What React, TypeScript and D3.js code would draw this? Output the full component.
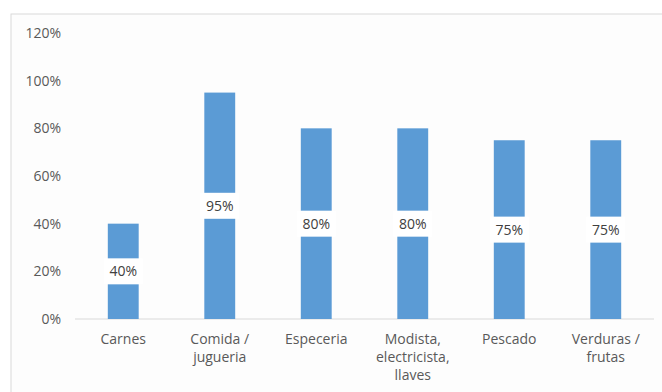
import React from "react";
import * as d3 from "d3";

const categories: string[][] = [
  ["Carnes"],
  ["Comida /", "jugueria"],
  ["Especeria"],
  ["Modista,", "electricista,", "llaves"],
  ["Pescado"],
  ["Verduras /", "frutas"],
];
const values: number[] = [0.4, 0.95, 0.8, 0.8, 0.75, 0.75];
const ticks: number[] = [0, 0.2, 0.4, 0.6, 0.8, 1.0, 1.2];

const W = 662;
const H = 392;
const FONT = "'Open Sans', Lato, 'Liberation Sans', sans-serif";
const FS = 14;

export default function App() {
  const x = d3
    .scaleBand<number>()
    .domain(values.map((_, i) => i))
    .range([75, 654])
    .paddingInner(0.68)
    .paddingOuter(0.34);
  const y = d3.scaleLinear().domain([0, 1.2]).range([319, 33]);
  const fmt = d3.format(".0%");

  return (
    <svg
      width={W}
      height={H}
      style={{ position: "absolute", left: 0, top: 0, display: "block" }}
      fontFamily={FONT}
    >
      <rect x={0} y={0} width={W} height={H} fill="#ffffff" />
      <rect x={11} y={14} width={W} height={H} fill="#fdfdfd" stroke="#d9d9d9" strokeWidth={1} />
      {ticks.map((t) => (
        <text
          key={t}
          x={61}
          y={y(t)}
          dy="0.35em"
          textAnchor="end"
          fontSize={FS}
          fill="#595959"
        >
          {fmt(t)}
        </text>
      ))}
      <line x1={75} x2={654} y1={y(0)} y2={y(0)} stroke="#d9d9d9" strokeWidth={1} />
      {values.map((v, i) => {
        const bx = x(i)!;
        const bw = x.bandwidth();
        const top = y(v);
        const mid = (y(0) + top) / 2;
        return (
          <g key={i}>
            <rect x={bx} y={top} width={bw} height={y(0) - top} fill="#5b9bd5" />
            <rect x={bx - 4} y={mid - 13} width={bw + 8} height={26} fill="#ffffff" />
            <text
              x={bx + bw / 2}
              y={mid}
              dy="0.35em"
              textAnchor="middle"
              fontSize={FS}
              fill="#404040"
            >
              {fmt(v)}
            </text>
          </g>
        );
      })}
      {categories.map((lines, i) => {
        const cx = x(i)! + x.bandwidth() / 2;
        return (
          <text key={i} textAnchor="middle" fontSize={FS} fill="#595959">
            {lines.map((l, j) => (
              <tspan key={j} x={cx} y={344 + j * 18}>
                {l}
              </tspan>
            ))}
          </text>
        );
      })}
    </svg>
  );
}
